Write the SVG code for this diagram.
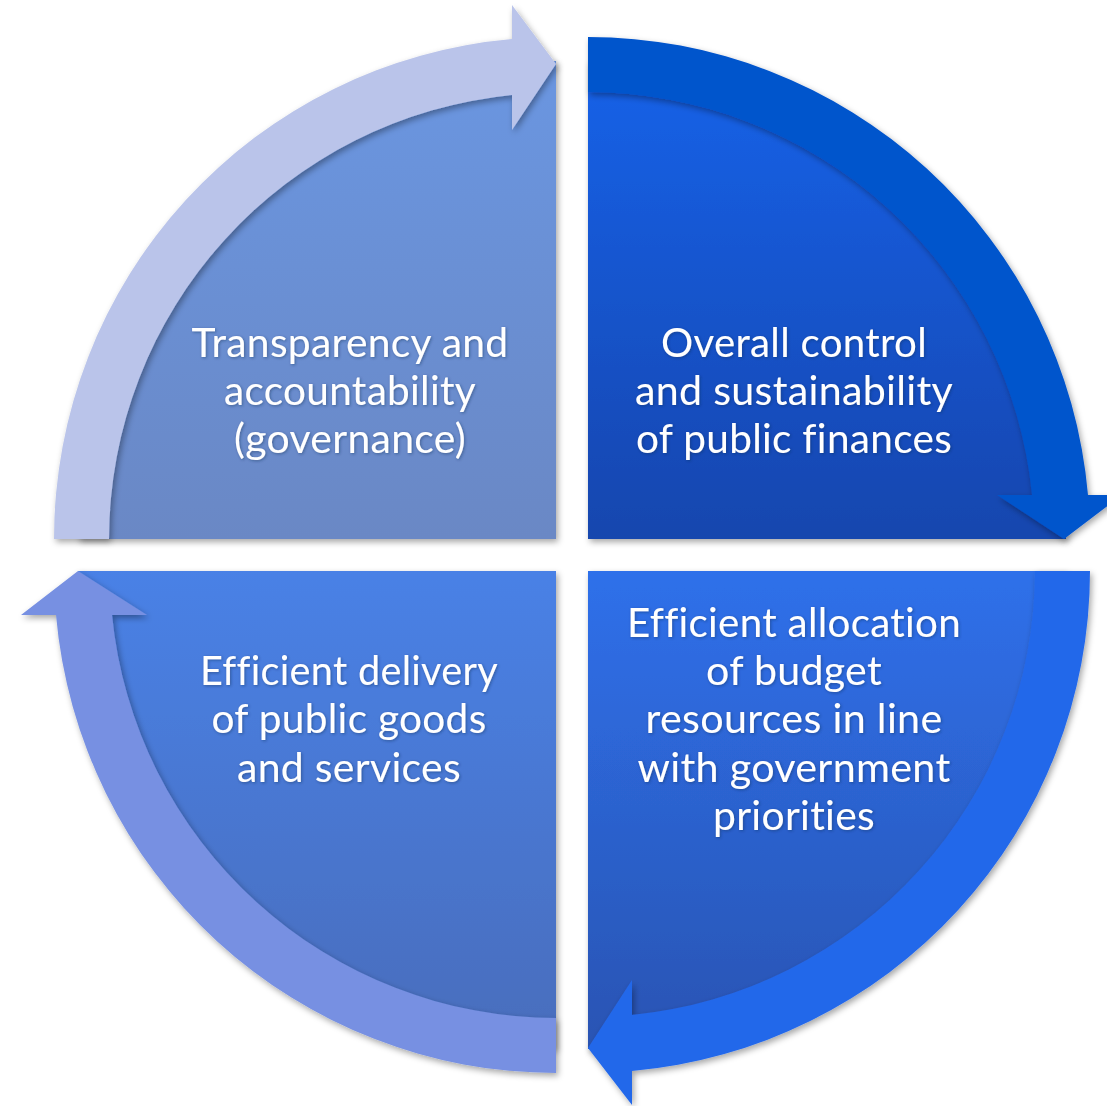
<svg xmlns="http://www.w3.org/2000/svg" width="1107" height="1106" viewBox="0 0 1107 1106">
<defs>
<linearGradient id="gTL" x1="0" y1="0" x2="0" y2="1"><stop offset="0" stop-color="#6B96E1"/><stop offset="1" stop-color="#6A88C5"/></linearGradient>
<linearGradient id="gTR" x1="0" y1="0" x2="0" y2="1"><stop offset="0" stop-color="#1262E9"/><stop offset="1" stop-color="#1746AE"/></linearGradient>
<linearGradient id="gBR" x1="0" y1="0" x2="0" y2="1"><stop offset="0" stop-color="#2F70EA"/><stop offset="1" stop-color="#2954B3"/></linearGradient>
<linearGradient id="gBL" x1="0" y1="0" x2="0" y2="1"><stop offset="0" stop-color="#4981E6"/><stop offset="1" stop-color="#4A6DBC"/></linearGradient>
<filter id="sh" x="-10%" y="-10%" width="120%" height="120%"><feDropShadow dx="2" dy="3" stdDeviation="3" flood-color="#000" flood-opacity="0.35"/></filter>
<filter id="tsh" x="-10%" y="-20%" width="120%" height="140%"><feDropShadow dx="1" dy="1" stdDeviation="1.5" flood-color="#1a2a50" flood-opacity="0.45"/></filter>
</defs>
<style>
.lbl{font-family:Lato,"Liberation Sans",sans-serif;font-size:41px;fill:#ffffff;text-anchor:middle;filter:url(#tsh);letter-spacing:0.3px;font-variant-ligatures:none;font-feature-settings:"liga" 0,"clig" 0,"dlig" 0}
.pie{filter:url(#sh)}
.arr{filter:url(#sh)}
</style>
<rect width="1107" height="1106" fill="#ffffff"/>
<g id="node-transparency">
<path class="pie" d="M556,539 L78,539 A478,478 0 0 1 556,61 Z" fill="url(#gTL)"/>
<text class="lbl" x="350" y="357" textLength="317" lengthAdjust="spacingAndGlyphs">Transparency and</text>
<text class="lbl" x="350" y="405" textLength="252" lengthAdjust="spacingAndGlyphs">accountability</text>
<text class="lbl" x="350" y="453" textLength="232" lengthAdjust="spacingAndGlyphs">(governance)</text>
</g>
<g id="node-control">
<path class="pie" d="M588,539 L588,61 A478,478 0 0 1 1066,539 Z" fill="url(#gTR)"/>
<text class="lbl" x="794" y="357" textLength="266" lengthAdjust="spacingAndGlyphs">Overall control</text>
<text class="lbl" x="794" y="405" textLength="318" lengthAdjust="spacingAndGlyphs">and sustainability</text>
<text class="lbl" x="794" y="453" textLength="316" lengthAdjust="spacingAndGlyphs">of public finances</text>
</g>
<g id="node-allocation">
<path class="pie" d="M588,571 L1066,571 A478,478 0 0 1 588,1049 Z" fill="url(#gBR)"/>
<text class="lbl" x="794" y="637" textLength="334" lengthAdjust="spacingAndGlyphs">Efficient allocation</text>
<text class="lbl" x="794" y="685" textLength="176" lengthAdjust="spacingAndGlyphs">of budget</text>
<text class="lbl" x="794" y="733" textLength="297" lengthAdjust="spacingAndGlyphs">resources in line</text>
<text class="lbl" x="794" y="782" textLength="313" lengthAdjust="spacingAndGlyphs">with government</text>
<text class="lbl" x="794" y="830" textLength="162" lengthAdjust="spacingAndGlyphs">priorities</text>
</g>
<g id="node-delivery">
<path class="pie" d="M556,571 L556,1049 A478,478 0 0 1 78,571 Z" fill="url(#gBL)"/>
<text class="lbl" x="349" y="685" textLength="298" lengthAdjust="spacingAndGlyphs">Efficient delivery</text>
<text class="lbl" x="349" y="733" textLength="275" lengthAdjust="spacingAndGlyphs">of public goods</text>
<text class="lbl" x="349" y="782" textLength="224" lengthAdjust="spacingAndGlyphs">and services</text>
</g>
<g id="connectors">
<path class="arr" d="M54,539 A502,502 0 0 1 512,39 L512,5 L556,64 L512,130 L512,95 A447,447 0 0 0 109,539 Z" fill="#BAC4EA"/>
<path class="arr" d="M588,37 A502,502 0 0 1 1088,495 L1122,495 L1064,539 L997,495 L1032,495 A447,447 0 0 0 588,92 Z" fill="#0454CC"/>
<path class="arr" d="M1090,571 A502,502 0 0 1 632,1071 L632,1105 L588,1048 L632,980 L632,1015 A447,447 0 0 0 1035,571 Z" fill="#2468EA"/>
<path class="arr" d="M556,1073 A502,502 0 0 1 56,615 L21,615 L78,571 L147,615 L112,615 A447,447 0 0 0 556,1018 Z" fill="#7790E2"/>
</g>
</svg>
